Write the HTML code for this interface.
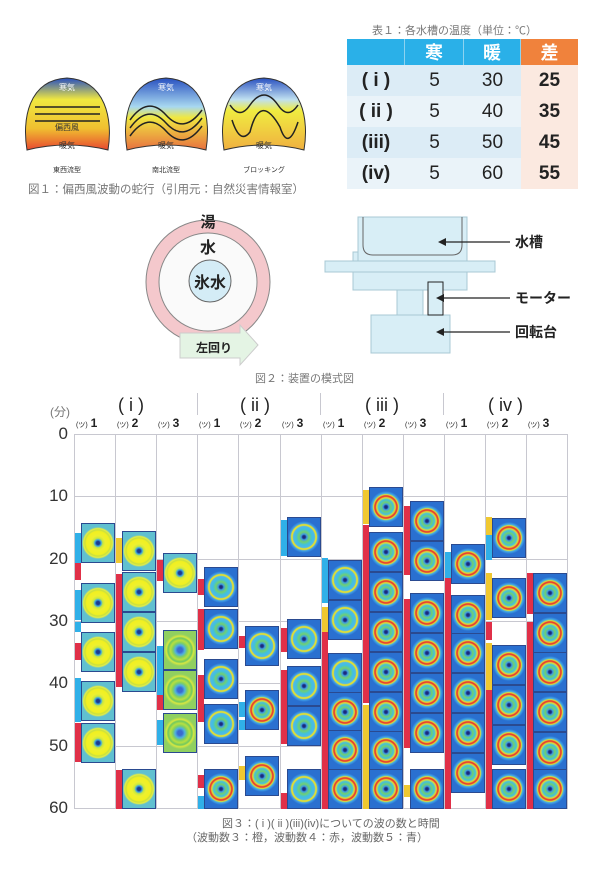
<!DOCTYPE html>
<html><head><meta charset="utf-8">
<style>
body{margin:0;width:600px;height:886px;background:#fff;position:relative;overflow:hidden;font-family:"Liberation Sans","Noto Sans CJK JP",sans-serif;}
.a{position:absolute}
.cap{position:absolute;color:#777;font-size:11px;white-space:nowrap}
table{border-collapse:separate;border-spacing:0}
.tb{position:absolute;left:347px;top:39px}
.tb td{text-align:center;font-size:19px;color:#222;height:31px;padding:0}
.th td{height:25px;background:#2ab0e8;color:#fff;font-weight:bold;font-size:18px;border-right:1px solid #8dd3f0}
.th td.o{background:#f0823c;border-right:0}
.r1 td,.r3 td{background:#dcecf6}
.r2 td,.r4 td{background:#eaf3f9}
td.d{background:#fbe9e0 !important;font-weight:bold}
td.h{font-weight:bold;font-size:19px}
.grid{position:absolute;background:#c8c8d0}
.th1{position:absolute;width:34px;height:40px;border:1px solid #2a4a90;box-sizing:border-box}
.bar{position:absolute;width:6px}
.sub{position:absolute;font-size:12px;font-weight:bold;color:#222}
.sub small{font-size:7px;font-weight:normal;margin-right:3px}
</style></head><body>

<svg class="a" style="left:0;top:0" width="330" height="180">
<defs>
<linearGradient id="g1" x1="0" y1="0" x2="0" y2="1"><stop offset="0" stop-color="#2850c0"/><stop offset=".3" stop-color="#f0e840"/><stop offset=".7" stop-color="#f0c030"/><stop offset="1" stop-color="#e84830"/></linearGradient>
<linearGradient id="g2" x1="0" y1="0" x2="0" y2="1"><stop offset="0" stop-color="#2850c0"/><stop offset=".4" stop-color="#a8d8f0"/><stop offset=".55" stop-color="#f0e840"/><stop offset="1" stop-color="#e87040"/></linearGradient>
<linearGradient id="g3" x1="0" y1="0" x2="0" y2="1"><stop offset="0" stop-color="#2850c0"/><stop offset=".3" stop-color="#c0e0f0"/><stop offset=".45" stop-color="#f0ec40"/><stop offset="1" stop-color="#f0b040"/></linearGradient>
</defs>
<path d="M27,150 C22,120 28,80 67,78 C106,80 113,120 108,150 Q67,140 27,150Z" fill="url(#g1)" stroke="#333"/>
<path d="M127,150 C122,120 128,80 166,78 C205,80 211,120 206,150 Q166,140 127,150Z" fill="url(#g2)" stroke="#333"/>
<path d="M224,150 C219,120 225,80 264,78 C303,80 309,120 304,150 Q264,140 224,150Z" fill="url(#g3)" stroke="#333"/>
<g stroke="#222" stroke-width="1.5" fill="none">
<path d="M35,107 h65 M35,114 h65 M35,121 h65"/>
<path d="M130,120 q18,-25 36,-5 q18,20 36,-5 M130,128 q18,-25 36,-5 q18,20 36,-5 M130,136 q18,-25 36,-5 q18,20 36,-5"/>
<path d="M230,105 q10,15 20,0 q14,-20 28,0 q10,15 20,0 M232,120 q8,25 18,12 q10,-40 30,-5 q8,25 18,-5"/>
</g>
<g font-size="8" fill="#333" text-anchor="middle"><text x="67" y="90" fill="#fff">寒気</text><text x="67" y="130">偏西風</text><text x="67" y="148">暖気</text>
<text x="166" y="90" fill="#fff">寒気</text><text x="166" y="148">暖気</text><text x="264" y="90" fill="#fff">寒気</text><text x="264" y="148">暖気</text>
<text x="67" y="172" font-size="7">東西流型</text><text x="166" y="172" font-size="7">南北流型</text><text x="264" y="172" font-size="7">ブロッキング</text></g>
</svg>
<div class="cap" style="left:28px;top:181px;font-size:11.5px">図１：偏西風波動の蛇行（引用元：自然災害情報室）</div>

<div class="cap" style="left:372px;top:22px">表１：各水槽の温度（単位：℃）</div>
<table class="tb">
<tr class="th"><td style="width:57px"></td><td style="width:58px">寒</td><td style="width:56px">暖</td><td class="o" style="width:57px">差</td></tr>
<tr class="r1"><td class="h">( i )</td><td>5</td><td>30</td><td class="d">25</td></tr>
<tr class="r2"><td class="h">( ii )</td><td>5</td><td>40</td><td class="d">35</td></tr>
<tr class="r3"><td class="h">(iii)</td><td>5</td><td>50</td><td class="d">45</td></tr>
<tr class="r4"><td class="h">(iv)</td><td>5</td><td>60</td><td class="d">55</td></tr>
</table>

<svg class="a" style="left:130px;top:200px" width="470" height="190">
<circle cx="78" cy="82" r="62" fill="#f4c8cc" stroke="#888"/>
<circle cx="78" cy="82" r="49" fill="#fafafa" stroke="#888"/>
<circle cx="80" cy="81" r="21" fill="#d4ecf6" stroke="#666"/>
<text x="78" y="27" font-size="15" font-weight="bold" text-anchor="middle" fill="#222">湯</text>
<text x="78" y="53" font-size="16" font-weight="bold" text-anchor="middle" fill="#222">水</text>
<text x="80" y="88" font-size="16" font-weight="bold" text-anchor="middle" fill="#222">氷水</text>
<path d="M50,133 H110 V125 L128,145 L110,165 V158 H50Z" fill="#e4f4e4" stroke="#ccc"/>
<text x="66" y="152" font-size="12" font-weight="bold" fill="#222">左回り</text>
<g fill="#d8eef6" stroke="#a8c8d4">
<rect x="223" y="52" width="114" height="10"/>
<path d="M228,17 h109 v45 h-109z"/>
<rect x="195" y="61" width="170" height="11"/>
<rect x="223" y="72" width="114" height="18"/>
<rect x="267" y="90" width="26" height="25"/>
<rect x="241" y="115" width="79" height="38"/>
</g>
<path d="M233,17 V45 Q233,55 243,55 H322 Q332,55 332,45 V17" fill="none" stroke="#666"/>
<rect x="298" y="82" width="15" height="33" fill="#d8eef6" stroke="#222"/>
<g stroke="#222" stroke-width="1.2"><path d="M380,42 H312 M380,98 H310 M380,132 H310"/></g>
<g fill="#222"><path d="M308,42 l8,-4 v8z M306,98 l8,-4 v8z M306,132 l8,-4 v8z"/></g>
<g font-size="14" font-weight="bold" fill="#222"><text x="385" y="47">水槽</text><text x="385" y="103">モーター</text><text x="385" y="137">回転台</text></g>
</svg>
<div class="cap" style="left:255px;top:370px">図２：装置の模式図</div>

<div id="ch"></div>
<div class="cap" style="left:50px;top:403px;font-size:12px">(分)</div>
<div class="a" style="left:118px;top:395px;font-size:18px;color:#222">( i )</div>
<div class="a" style="left:240px;top:395px;font-size:18px;color:#222">( ii )</div>
<div class="a" style="left:365px;top:395px;font-size:18px;color:#222">( iii )</div>
<div class="a" style="left:488px;top:395px;font-size:18px;color:#222">( iv )</div>
<div class="cap" style="left:222px;top:815px;color:#666">図３：( i )( ii )(iii)(iv)についての波の数と時間</div>
<div class="cap" style="left:186px;top:829px;color:#666">（波動数３：橙，波動数４：赤，波動数５：青）</div>

<script>
var ch=document.getElementById('ch'),h='';
var X0=74,CW=41.1,Y0=434,PM=6.23;
for(var i=0;i<=12;i++){var x=Math.round(X0+i*CW);h+='<div class="grid" style="left:'+x+'px;top:'+(Y0)+'px;width:1px;height:375px"></div>';}
for(var m=0;m<=60;m+=10){var y=Math.round(Y0+m*PM);h+='<div class="grid" style="left:'+X0+'px;top:'+y+'px;width:494px;height:1px"></div>';
h+='<div class="a" style="left:30px;width:38px;text-align:right;top:'+(y-10)+'px;font-size:17px;color:#333">'+m+'</div>';}
[197,320,443].forEach(function(x){h+='<div class="grid" style="left:'+x+'px;top:393px;width:1px;height:22px"></div>';});
for(var i=0;i<12;i++){h+='<div class="sub" style="left:'+Math.round(X0+i*CW+2)+'px;top:416px"><small>(ツ)</small>'+(i%3+1)+'</div>';}
var G={y:'radial-gradient(circle closest-side,#1a3a90 0 10%,#40a8e0 20%,#c8e840 30%,#eef030 45%,#f2f020 72%,#c8e040 82%,#e8ee40 90%,#60c0d0 100%)',
g:'radial-gradient(circle closest-side,#3a6ad0 0 15%,#50b0e0 30%,#80d060 45%,#b8e040 60%,#70c860 75%,#d8e840 85%,#90d060 100%)',
b:'radial-gradient(circle closest-side,#1a2a80 0 8%,#40a0e0 18%,#70d070 32%,#40c0e0 50%,#50b8e8 66%,#e4e030 73%,#e4e030 78%,#40a0e8 86%,#2a70d0 100%)',
r:'radial-gradient(circle closest-side,#1a2a80 0 8%,#40a0e0 18%,#70d070 30%,#40c0e0 46%,#e0e030 58%,#e84030 66%,#e84030 71%,#e0e030 77%,#40a8e8 86%,#2a70d0 100%)'};
var C={B:'#30b0e8',R:'#e03048',Y:'#f0c830'};
var cols=[
 {t:[[523,'y'],[583,'y'],[632,'y'],[681,'y'],[723,'y']],b:[[533,563,'B'],[563,580,'R'],[590,620,'B'],[622,632,'B'],[643,660,'R'],[678,722,'B'],[723,762,'R']]},
 {t:[[531,'y'],[572,'y'],[612,'y'],[652,'y'],[770,'y']],b:[[538,563,'Y'],[574,687,'R'],[770,809,'R']]},
 {t:[[553,'y'],[630,'g'],[670,'g'],[713,'g']],b:[[560,581,'R'],[646,696,'B'],[695,710,'R'],[720,745,'B']]},
 {t:[[567,'b'],[609,'b'],[659,'b'],[704,'b'],[770,'r']],b:[[579,595,'R'],[609,650,'R'],[675,722,'R'],[775,788,'R'],[796,809,'B']]},
 {t:[[626,'b'],[690,'r'],[756,'r']],b:[[636,648,'R'],[702,717,'B'],[720,730,'B'],[766,780,'Y']]},
 {t:[[517,'b'],[619,'b'],[666,'b'],[706,'b'],[770,'b']],b:[[520,556,'B'],[628,652,'R'],[670,744,'R'],[793,809,'R']]},
 {t:[[560,'b'],[600,'b'],[653,'b'],[692,'r'],[730,'r'],[770,'r']],b:[[558,603,'B'],[607,632,'Y'],[632,809,'R']]},
 {t:[[487,'r'],[532,'r'],[572,'r'],[612,'r'],[652,'r'],[692,'r'],[731,'r'],[770,'r']],b:[[490,524,'Y'],[525,703,'R'],[705,809,'Y']]},
 {t:[[501,'r'],[541,'r'],[593,'r'],[633,'r'],[673,'r'],[713,'r'],[770,'r']],b:[[506,575,'R'],[599,748,'R'],[785,797,'Y']]},
 {t:[[544,'r'],[595,'r'],[633,'r'],[673,'r'],[713,'r'],[753,'r']],b:[[552,580,'B'],[578,809,'R']]},
 {t:[[518,'r'],[578,'r'],[645,'r'],[685,'r'],[725,'r'],[770,'r']],b:[[517,535,'Y'],[535,560,'B'],[573,620,'Y'],[622,640,'R'],[643,690,'Y'],[690,809,'R']]},
 {t:[[573,'r'],[613,'r'],[652,'r'],[692,'r'],[732,'r'],[770,'r']],b:[[573,614,'R'],[622,809,'R']]}];
cols.forEach(function(c,i){var x=Math.round(X0+i*CW);
 c.b.forEach(function(b){h+='<div class="bar" style="left:'+(x+1)+'px;top:'+b[0]+'px;height:'+(b[1]-b[0])+'px;background:'+C[b[2]]+'"></div>';});
 c.t.forEach(function(t){var top=Math.min(t[0],769);h+='<div class="th1" style="left:'+(x+7)+'px;top:'+top+'px;background:'+G[t[1]]+'"></div>';});
});
ch.innerHTML=h;
</script>
</body></html>
